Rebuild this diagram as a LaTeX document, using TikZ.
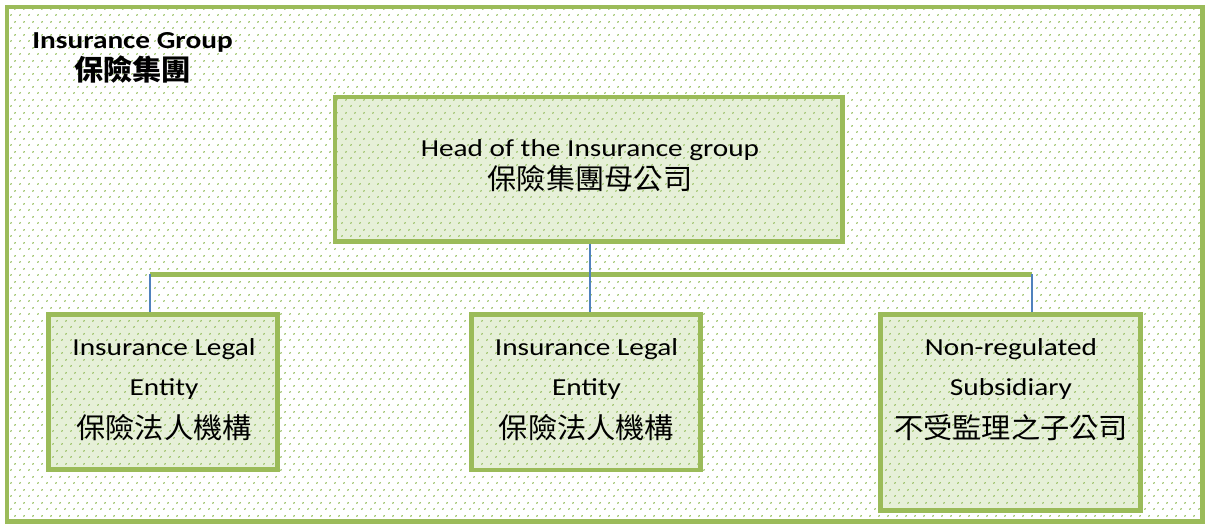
\documentclass[tikz,border=0pt]{standalone}
\usepackage{fontspec}
\setmainfont{Carlito}[FakeStretch=1.2]
\newfontfamily\cjk{Noto Sans CJK TC}[FakeStretch=1.03]
\usetikzlibrary{patterns.meta}
\definecolor{gborder}{HTML}{9BBB59}
\definecolor{gfill}{HTML}{E6F0D8}
\definecolor{gdot}{HTML}{A0C56E}
\definecolor{lblue}{HTML}{4F81BD}
\tikzdeclarepattern{
  name=gdots,
  type=uncolored,
  bounding box={(0,0) and (8.5bp,13bp)},
  tile size={(8.5bp,13bp)},
  code={
    \fill (2.1bp,3.25bp) ellipse [x radius=1.4bp, y radius=0.85bp, rotate=45];
    \fill (6.35bp,9.75bp) ellipse [x radius=1.4bp, y radius=0.85bp, rotate=45];
  }
}
\newcommand{\zh}[1]{{\cjk\fontsize{28.5}{40}\selectfont #1}}
\begin{document}
\begin{tikzpicture}[x=1bp,y=-1bp,
  frame/.style={preaction={fill=white}, pattern=gdots, pattern color=gdot,
    draw=gborder, line width=4.5bp, inner sep=0pt},
  box/.style={preaction={fill=gfill}, pattern=gdots, pattern color=gdot,
    draw=gborder, line width=4.5bp, inner sep=0pt},
  bar/.style={draw=gborder, line width=4.5bp},
  conn/.style={draw=lblue, line width=1.5bp},
  txt/.style={align=center, inner sep=0pt, font=\fontsize{24.5}{40}\selectfont},
  ttl/.style={align=center, inner sep=0pt, font=\fontsize{24.5}{33}\selectfont\bfseries}
]
\useasboundingbox (0,0) rectangle (1206,525);
% outer group frame
\node[frame, minimum width=1195.5bp, minimum height=514.5bp] (group) at (604.75,264.25) {};
\node[ttl, anchor=base] (title) at (132.5,81) {Insurance Group\\{\cjk\fontsize{28.5}{33}\selectfont\bfseries 保險集團}};
% boxes
\node[box, minimum width=507.5bp, minimum height=144.5bp] (head) at (588.75,169.25) {};
\node[box, minimum width=229bp, minimum height=155bp] (left) at (163,392) {};
\node[box, minimum width=229bp, minimum height=155.5bp] (mid) at (586,392.25) {};
\node[box, minimum width=260bp, minimum height=196bp] (right) at (1010.5,412.5) {};
% texts
\node[txt, anchor=base] (headT) at (590,190) {Head of the Insurance group\\[-6bp]\zh{保險集團母公司}};
\node[txt, anchor=base] (leftT) at (164,438) {Insurance Legal\\Entity\\[3bp]\zh{保險法人機構}};
\node[txt, anchor=base] (midT) at (586.5,438) {Insurance Legal\\Entity\\[3bp]\zh{保險法人機構}};
\node[txt, anchor=base] (rightT) at (1011,438) {Non-regulated\\Subsidiary\\[3bp]\zh{不受監理之子公司}};
% connectors
\coordinate (bl) at (150,274.5);
\coordinate (br) at (1032,274.5);
\coordinate (hx) at (590,0);
\draw[bar] (bl) -- (br);
\draw[conn] (hx |- head.south) -- (hx |- mid.north);
\draw[conn] (bl) -- (bl |- left.north);
\draw[conn] (br) -- (br |- right.north);
\end{tikzpicture}
\end{document}
